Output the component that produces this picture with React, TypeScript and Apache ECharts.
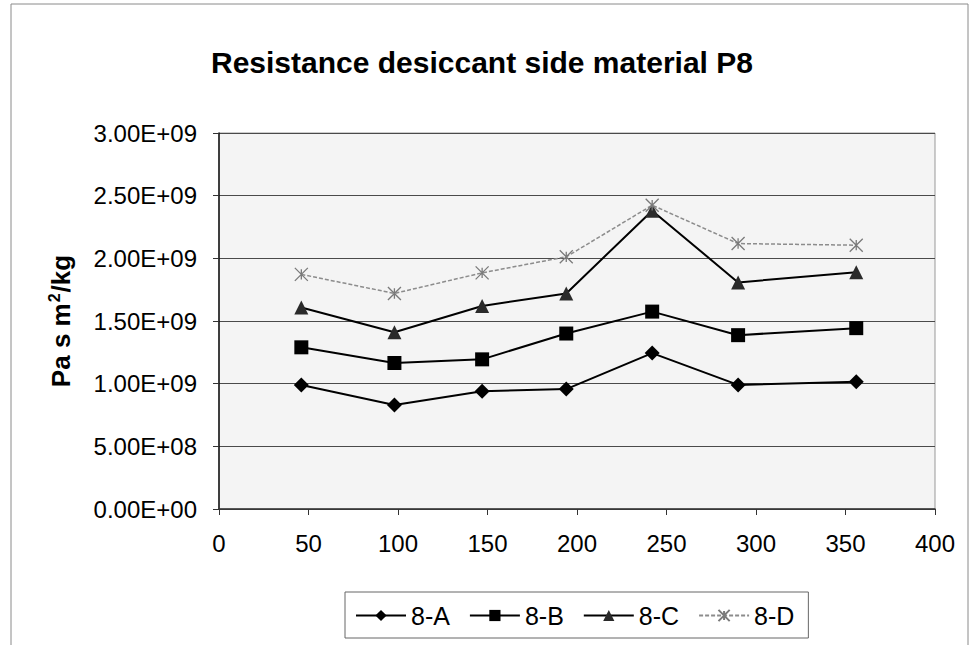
import React, { useEffect, useRef } from "react";
import * as echarts from "echarts";

// Sample positions along the x axis
const xValues = [46, 98, 147, 194, 242, 290, 356];

// Resistance values (Pa s m²/kg) for each sample of material P8
const series8A = [0.99e9, 0.83e9, 0.94e9, 0.957e9, 1.244e9, 0.99e9, 1.015e9];
const series8B = [1.29e9, 1.165e9, 1.194e9, 1.4e9, 1.575e9, 1.387e9, 1.443e9];
const series8C = [1.608e9, 1.41e9, 1.62e9, 1.72e9, 2.38e9, 1.808e9, 1.888e9];
const series8D = [1.872e9, 1.72e9, 1.884e9, 2.012e9, 2.424e9, 2.118e9, 2.105e9];

const seriesNames = ["8-A", "8-B", "8-C", "8-D"];
const yTicks = [0, 5e8, 1e9, 1.5e9, 2e9, 2.5e9, 3e9];

const FONT = "'Liberation Sans', Arial, Helvetica, sans-serif";

const pair = (vals: number[]) => xValues.map((x, i) => [x, vals[i]]);

const fmtExp = (v: number) => {
  const [m, e] = v.toExponential(2).split("e");
  const sign = e[0] === "-" ? "-" : "+";
  const digits = e.replace(/[+-]/, "").padStart(2, "0");
  return `${m}E${sign}${digits}`;
};

const starSymbol = "path://M0,0L10,10M10,0L0,10M5,1L5,9";

export default function App() {
  const ref = useRef<HTMLDivElement>(null);

  useEffect(() => {
    if (!ref.current) return;
    const chart = echarts.init(ref.current, undefined, { renderer: "svg" });
    chart.setOption({
      animation: false,
      backgroundColor: "#ffffff",
      textStyle: { fontFamily: FONT },
      title: {
        text: "Resistance desiccant side material P8",
        left: 206,
        top: 42,
        textStyle: { fontFamily: FONT, fontSize: 30, fontWeight: "bold", color: "#000" },
      },
      graphic: [
        {
          type: "rect",
          shape: { x: 11, y: 4, width: 957, height: 700 },
          style: { fill: "none", stroke: "#8a8a8a", lineWidth: 1 },
          silent: true,
          z: -1,
        },
      ],
      legend: {
        data: seriesNames,
        left: 345,
        top: 592,
        orient: "horizontal",
        padding: [11, 14, 10, 10],
        borderColor: "#666",
        borderWidth: 1,
        itemGap: 19,
        itemWidth: 50,
        itemHeight: 14,
        textStyle: { fontFamily: FONT, fontSize: 25, color: "#000" },
      },
      grid: {
        left: 219,
        right: 36,
        top: 133,
        bottom: 136,
        show: true,
        backgroundColor: "#f4f4f4",
        borderColor: "#999",
        borderWidth: 1,
      },
      xAxis: {
        type: "value",
        min: 0,
        max: 400,
        interval: 50,
        axisLine: { show: true, onZero: false, lineStyle: { color: "#333", width: 1.5 } },
        axisTick: { show: true, length: 6, lineStyle: { color: "#333" } },
        axisLabel: { fontFamily: FONT, fontSize: 24, color: "#000", margin: 22 },
        splitLine: { show: false },
      },
      yAxis: {
        type: "value",
        min: 0,
        max: 3e9,
        interval: 5e8,
        name: "Pa s m{sup|2}/kg",
        nameLocation: "middle",
        nameGap: 143,
        nameTextStyle: {
          fontFamily: FONT,
          fontSize: 26,
          fontWeight: "bold",
          color: "#000",
          lineHeight: 30,
          rich: {
            sup: {
              fontFamily: FONT,
              fontSize: 16,
              fontWeight: "bold",
              color: "#000",
              verticalAlign: "top",
              lineHeight: 30,
              padding: [0, 1, 0, 1],
            },
          },
        },
        axisLine: { show: true, lineStyle: { color: "#111", width: 1.5 } },
        axisTick: { show: true, length: 6, lineStyle: { color: "#333" } },
        axisLabel: {
          fontFamily: FONT,
          fontSize: 24,
          color: "#000",
          margin: 22,
          formatter: (v: number) => (yTicks.includes(v) ? fmtExp(v) : ""),
        },
        splitLine: { show: true, lineStyle: { color: "#4a4a4a", width: 1 } },
      },
      series: [
        {
          name: "8-A",
          type: "line",
          data: pair(series8A),
          symbol: "diamond",
          symbolSize: 15,
          lineStyle: { color: "#000", width: 2 },
          itemStyle: { color: "#000" },
        },
        {
          name: "8-B",
          type: "line",
          data: pair(series8B),
          symbol: "rect",
          symbolSize: 14,
          lineStyle: { color: "#000", width: 2 },
          itemStyle: { color: "#000" },
        },
        {
          name: "8-C",
          type: "line",
          data: pair(series8C),
          symbol: "triangle",
          symbolSize: 14,
          lineStyle: { color: "#000", width: 2 },
          itemStyle: { color: "#2a2a2a" },
        },
        {
          name: "8-D",
          type: "line",
          data: pair(series8D),
          symbol: starSymbol,
          symbolSize: 13,
          lineStyle: { color: "#8c8c8c", width: 1.5, type: [4, 2] },
          itemStyle: { color: "none", borderColor: "#7a7a7a", borderWidth: 1.3 },
        },
      ],
    });
    return () => chart.dispose();
  }, []);

  return (
    <div
      ref={ref}
      style={{ position: "fixed", left: 0, top: 0, width: 971, height: 645 }}
    />
  );
}
